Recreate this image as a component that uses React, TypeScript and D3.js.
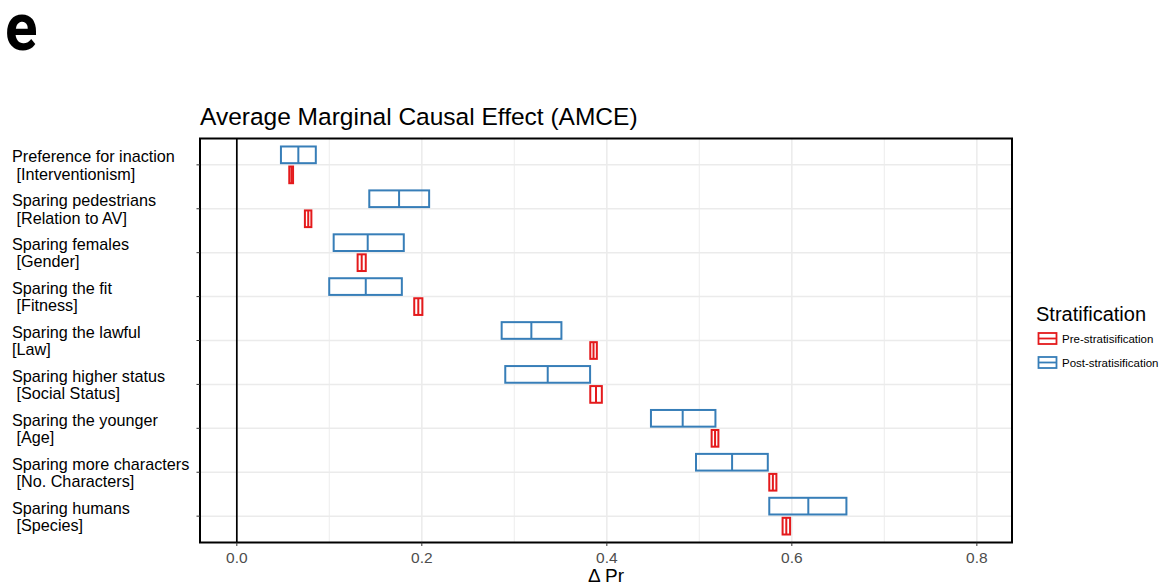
import React from "react";
import * as d3 from "d3";

const labels = [
  "Preference for inaction",
  "Sparing pedestrians",
  "Sparing females",
  "Sparing the fit",
  "Sparing the lawful",
  "Sparing higher status",
  "Sparing the younger",
  "Sparing more characters",
  "Sparing humans",
];
const subLabels = [
  " [Interventionism]",
  " [Relation to AV]",
  " [Gender]",
  " [Fitness]",
  "[Law]",
  " [Social Status]",
  " [Age]",
  " [No. Characters]",
  " [Species]",
];
const postMid = [0.0665, 0.1754, 0.1415, 0.1394, 0.3184, 0.3361, 0.482, 0.5354, 0.6178];
const postLow = [0.0477, 0.1432, 0.1047, 0.0999, 0.2863, 0.2902, 0.4477, 0.4964, 0.5756];
const postHigh = [0.0854, 0.2079, 0.1805, 0.1784, 0.3509, 0.3819, 0.5174, 0.574, 0.659];
const preMid = [0.059, 0.0772, 0.135, 0.1962, 0.3856, 0.3883, 0.517, 0.5795, 0.594];
const preLow = [0.0567, 0.0736, 0.1306, 0.1918, 0.3821, 0.3821, 0.5133, 0.5756, 0.59];
const preHigh = [0.0608, 0.0806, 0.1394, 0.2006, 0.3892, 0.3946, 0.5206, 0.5833, 0.5981];
const xTicks = [0, 0.2, 0.4, 0.6, 0.8];
const xMinor = [0.1, 0.3, 0.5, 0.7];
const legendLabels = ["Pre-stratisification", "Post-stratisification"];

const RED = "#E41A1C";
const BLUE = "#377EB8";
const FONT = "'Liberation Sans', Arial, Helvetica, sans-serif";

export default function App() {
  const W = 1161;
  const H = 586;
  const left = 200, right = 1012, top = 138.5, bottom = 542.5;
  const x = d3.scaleLinear().domain([-0.0398, 0.838]).range([left, right]);
  const y = d3.scalePoint<number>().domain(d3.range(labels.length)).range([top, bottom]).padding(0.6);
  const step = y.step();
  const off = 0.228 * step;
  const bh = 0.38 * step;

  const box = (lo: number, mid: number, hi: number, cy: number, color: string, key: string) => (
    <g key={key}>
      <rect x={x(lo)} y={cy - bh / 2} width={x(hi) - x(lo)} height={bh} fill="none" stroke={color} strokeWidth={2} />
      <line x1={x(mid)} x2={x(mid)} y1={cy - bh / 2} y2={cy + bh / 2} stroke={color} strokeWidth={2} />
    </g>
  );

  return (
    <svg width={W} height={H} style={{ position: "absolute", left: 0, top: 0 }} fontFamily={FONT}>
      <rect width={W} height={H} fill="#fff" />
      <text transform="translate(5,50) scale(0.9,1)" fontFamily="Roboto, sans-serif" fontWeight="bold" fontSize={67} fill="#000">e</text>
      <text x={200} y={125} fontSize={24.5} fill="#000">Average Marginal Causal Effect (AMCE)</text>

      {/* gridlines */}
      {xMinor.map((t) => (
        <line key={"mn" + t} x1={x(t)} x2={x(t)} y1={top} y2={bottom} stroke="#f0f0f0" strokeWidth={1.2} />
      ))}
      {xTicks.map((t) => (
        <line key={"mj" + t} x1={x(t)} x2={x(t)} y1={top} y2={bottom} stroke="#ebebeb" strokeWidth={1.5} />
      ))}
      {labels.map((_, i) => (
        <line key={"hg" + i} x1={left} x2={right} y1={y(i)!} y2={y(i)!} stroke="#ebebeb" strokeWidth={1.5} />
      ))}

      {/* zero line */}
      <line x1={x(0)} x2={x(0)} y1={top} y2={bottom} stroke="#000" strokeWidth={1.7} />

      {/* boxes */}
      {labels.map((_, i) => box(postLow[i], postMid[i], postHigh[i], y(i)! - off, BLUE, "p" + i))}
      {labels.map((_, i) => box(preLow[i], preMid[i], preHigh[i], y(i)! + off, RED, "r" + i))}

      {/* panel border */}
      <rect x={left} y={top} width={right - left} height={bottom - top} fill="none" stroke="#000" strokeWidth={2} />

      {/* y axis */}
      {labels.map((l, i) => (
        <g key={"yl" + i}>
          <line x1={left - 3.5} x2={left} y1={y(i)!} y2={y(i)!} stroke="#333" strokeWidth={1} />
          <text x={12} y={y(i)! - 2.5} fontSize={16.2} fill="#000">{l}</text>
          <text x={12} y={y(i)! + 14.8} fontSize={16.2} fill="#000" style={{ whiteSpace: "pre" }}>{subLabels[i]}</text>
        </g>
      ))}

      {/* x axis */}
      {xTicks.map((t) => (
        <g key={"xt" + t}>
          <line x1={x(t)} x2={x(t)} y1={bottom} y2={bottom + 3.5} stroke="#333" strokeWidth={1} />
          <text x={x(t)} y={563} fontSize={15.5} fill="#4d4d4d" textAnchor="middle">{d3.format(".1f")(t)}</text>
        </g>
      ))}
      <text x={(left + right) / 2} y={582} fontSize={19} fill="#000" textAnchor="middle">Δ Pr</text>

      {/* legend */}
      <text x={1036} y={321} fontSize={20} fill="#000">Stratification</text>
      {legendLabels.map((l, i) => {
        const c = i === 0 ? RED : BLUE;
        const ly = 338.5 + i * 24;
        return (
          <g key={"lg" + i}>
            <rect x={1038.5} y={ly - 5.5} width={18} height={11} fill="none" stroke={c} strokeWidth={1.8} />
            <line x1={1038.5} x2={1056.5} y1={ly} y2={ly} stroke={c} strokeWidth={1.8} />
            <text x={1062} y={ly + 4} fontSize={11.5} fill="#000">{l}</text>
          </g>
        );
      })}
    </svg>
  );
}
